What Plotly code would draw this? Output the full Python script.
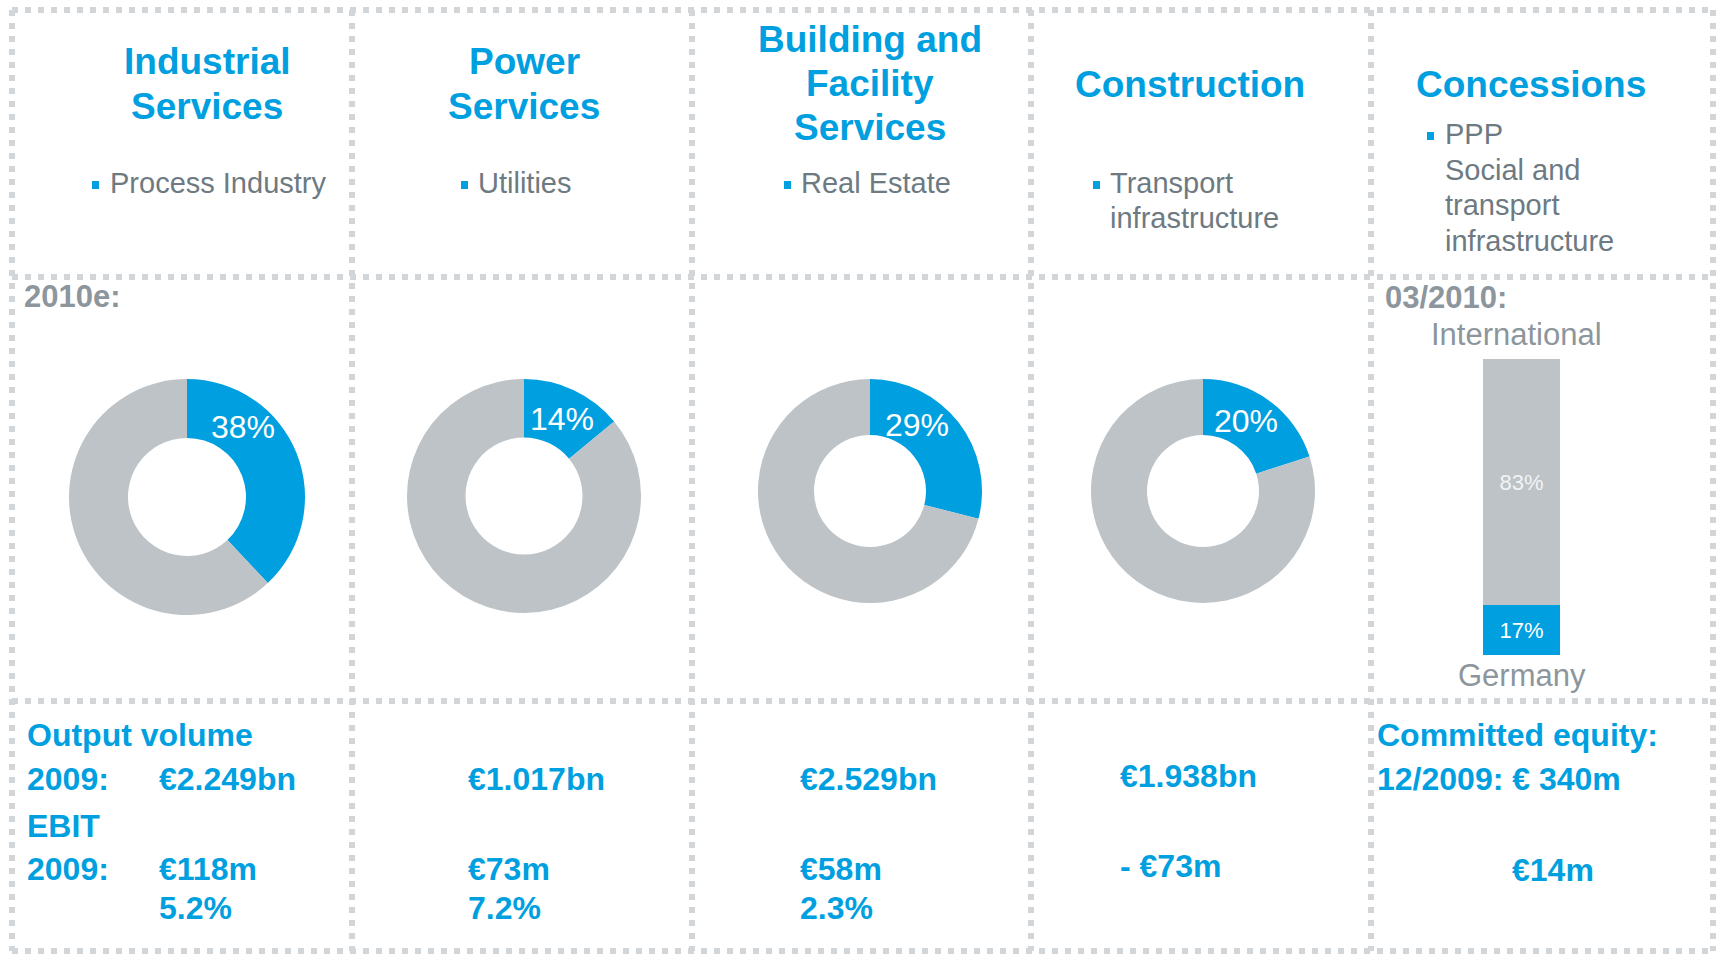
import plotly.graph_objects as go

# ---------------- data ----------------
segments = ["Industrial Services", "Power Services", "Building and Facility Services",
            "Construction", "Concessions"]
title_lines = [["Industrial", "Services"], ["Power", "Services"],
               ["Building and", "Facility", "Services"], ["Construction"], ["Concessions"]]
sub_lines = [["Process Industry"], ["Utilities"], ["Real Estate"],
             ["Transport", "infrastructure"],
             ["PPP", "Social and", "transport", "infrastructure"]]
share_2010e = [38, 14, 29, 20]          # blue slice, %
rest_2010e = [62, 86, 71, 80]           # grey slice, %
conc_categories = ["Germany", "International"]
conc_share = [17, 83]                   # 03/2010, %
output_volume_2009 = ["€2.249bn", "€1.017bn", "€2.529bn", "€1.938bn"]
ebit_2009 = ["€118m", "€73m", "€58m", "- €73m"]
ebit_margin_2009 = ["5.2%", "7.2%", "2.3%", ""]
committed_equity = "12/2009: € 340m"
conc_ebit = "€14m"

# ---------------- style ----------------
W, H = 1717, 954
BLUE = "#009FE0"
GREY_SLICE = "#BDC3C6"
GREY_TXT = "#6D7A82"
GREY_LBL = "#8C969C"
LINE = "#D2D6D9"
FONT = "Liberation Sans, Arial, sans-serif"
LEFT_PAD = 2   # compensate annotation inner padding

def px(x):
    return x / W

def py(y):
    return 1 - y / H

fig = go.Figure()

# invisible canvas axis in pixel units
fig.update_layout(
    xaxis=dict(range=[0, W], visible=False, domain=[0, 1], fixedrange=True),
    yaxis=dict(range=[H, 0], visible=False, domain=[0, 1], fixedrange=True),
)
fig.add_trace(go.Scatter(x=[0, W], y=[0, H], mode="markers",
                         marker=dict(opacity=0), showlegend=False, hoverinfo="skip"))

# ---------------- grid (dotted) ----------------
shapes = []
hlines = [10, 277, 701, 951]
vlines = [12, 352, 692, 1031, 1371, 1713]
for y in hlines:
    shapes.append(dict(type="line", xref="x", yref="y", x0=vlines[0], x1=vlines[-1], y0=y, y1=y,
                       line=dict(color=LINE, width=6, dash="6px,7px"), layer="below"))
for x in vlines:
    shapes.append(dict(type="line", xref="x", yref="y", x0=x, x1=x, y0=hlines[0], y1=hlines[-1],
                       line=dict(color=LINE, width=6, dash="6px,7px"), layer="below"))

# ---------------- donuts ----------------
donut_center = [(187, 497), (524, 496), (870, 491), (1203, 491)]
donut_radius = [118, 117, 112, 112]
label_pos = [(243, 427), (562, 419), (917, 425), (1246, 421)]
annotations = []
for i, (v, r_) in enumerate(zip(share_2010e, rest_2010e)):
    cx, cy = donut_center[i]
    r = donut_radius[i]
    fig.add_trace(go.Pie(
        values=[v, r_], labels=["share", "rest"], hole=0.5, sort=False,
        direction="clockwise", rotation=0, textinfo="none",
        marker=dict(colors=[BLUE, GREY_SLICE], line=dict(width=0)),
        domain=dict(x=[px(cx - r), px(cx + r)], y=[py(cy + r), py(cy - r)]),
        showlegend=False, hoverinfo="label+percent"))
    lx, ly = label_pos[i]
    annotations.append(dict(x=lx, y=ly, xref="x", yref="y", text=f"{v}%", showarrow=False,
                            font=dict(family=FONT, size=32, color="white"),
                            xanchor="center", yanchor="middle"))

# ---------------- concessions stacked bar ----------------
bar_colors = [BLUE, GREY_SLICE]
bar_text_colors = ["white", "#F2F4F5"]
for cat, val, col, tcol in zip(conc_categories, conc_share, bar_colors, bar_text_colors):
    fig.add_trace(go.Bar(x=["c"], y=[val], name=cat, marker=dict(color=col, line=dict(width=0)),
                         text=[f"{val}%"], textposition="inside", insidetextanchor="middle",
                         textfont=dict(family=FONT, size=22, color=tcol),
                         xaxis="x2", yaxis="y2", showlegend=False, hoverinfo="name+y"))
fig.update_layout(
    barmode="stack", bargap=0,
    xaxis2=dict(domain=[px(1483), px(1560)], visible=False, anchor="y2", fixedrange=True),
    yaxis2=dict(domain=[py(655), py(359)], range=[0, 100], visible=False, anchor="x2", fixedrange=True),
)

def txt(x, y, s, size, color, bold=False, anchor="left"):
    if bold:
        s = f"<b>{s}</b>"
    if anchor == "left":
        x = x - LEFT_PAD
    annotations.append(dict(x=x, y=y, xref="x", yref="y", text=s, showarrow=False,
                            font=dict(family=FONT, size=size, color=color),
                            xanchor=anchor, yanchor="middle", borderpad=0))

# ---------------- titles ----------------
title_cx = [207, 524, 870, 1190, 1531]
title_y = [[61, 106], [61, 106], [39, 83, 127], [84], [84]]
for i, lines in enumerate(title_lines):
    for s, y in zip(lines, title_y[i]):
        txt(title_cx[i], y, s, 37, BLUE, bold=True, anchor="center")

# ---------------- subtitles with bullets ----------------
bullet_x = [92, 461, 784, 1093, 1427]
sub_x = [111, 479, 802, 1111, 1446]
sub_y = [[183], [183], [183], [183, 218], [134, 170, 205, 241]]
for i, lines in enumerate(sub_lines):
    bx = bullet_x[i]
    by = sub_y[i][0] + 2
    shapes.append(dict(type="rect", xref="x", yref="y", x0=bx, x1=bx + 7, y0=by - 4, y1=by + 4,
                       fillcolor=BLUE, line=dict(width=0)))
    for s, y in zip(lines, sub_y[i]):
        txt(sub_x[i], y, s, 29, GREY_TXT)

# ---------------- row 2 labels ----------------
txt(25, 296, "2010e:", 31, GREY_LBL, bold=True)
txt(1386, 297, "03/2010:", 31, GREY_LBL, bold=True)
txt(1516, 334, conc_categories[1], 31, GREY_LBL, anchor="center")
txt(1522, 675, conc_categories[0], 31, GREY_LBL, anchor="center")

# ---------------- bottom row ----------------
txt(28, 735, "Output volume", 32, BLUE, bold=True)
txt(28, 779, "2009:", 32, BLUE, bold=True)
txt(28, 826, "EBIT", 32, BLUE, bold=True)
txt(28, 869, "2009:", 32, BLUE, bold=True)
val_x = [160, 469, 801, 1121]
ov_y = [779, 779, 779, 776]
eb_y = [869, 869, 869, 866]
for i in range(4):
    txt(val_x[i], ov_y[i], output_volume_2009[i], 32, BLUE, bold=True)
    txt(val_x[i], eb_y[i], ebit_2009[i], 32, BLUE, bold=True)
    if ebit_margin_2009[i]:
        txt(val_x[i], 908, ebit_margin_2009[i], 32, BLUE, bold=True)
txt(1378, 735, "Committed equity:", 32, BLUE, bold=True)
txt(1378, 779, committed_equity, 32, BLUE, bold=True)
txt(1513, 870, conc_ebit, 32, BLUE, bold=True)

fig.update_layout(
    width=W, height=H, margin=dict(l=0, r=0, t=0, b=0, pad=0),
    paper_bgcolor="white", plot_bgcolor="white",
    shapes=shapes, annotations=annotations, showlegend=False,
    font=dict(family=FONT),
)

fig.write_html("out.html", config={"displayModeBar": False},
               post_script="document.body.style.margin='0';document.body.style.overflow='hidden';")
